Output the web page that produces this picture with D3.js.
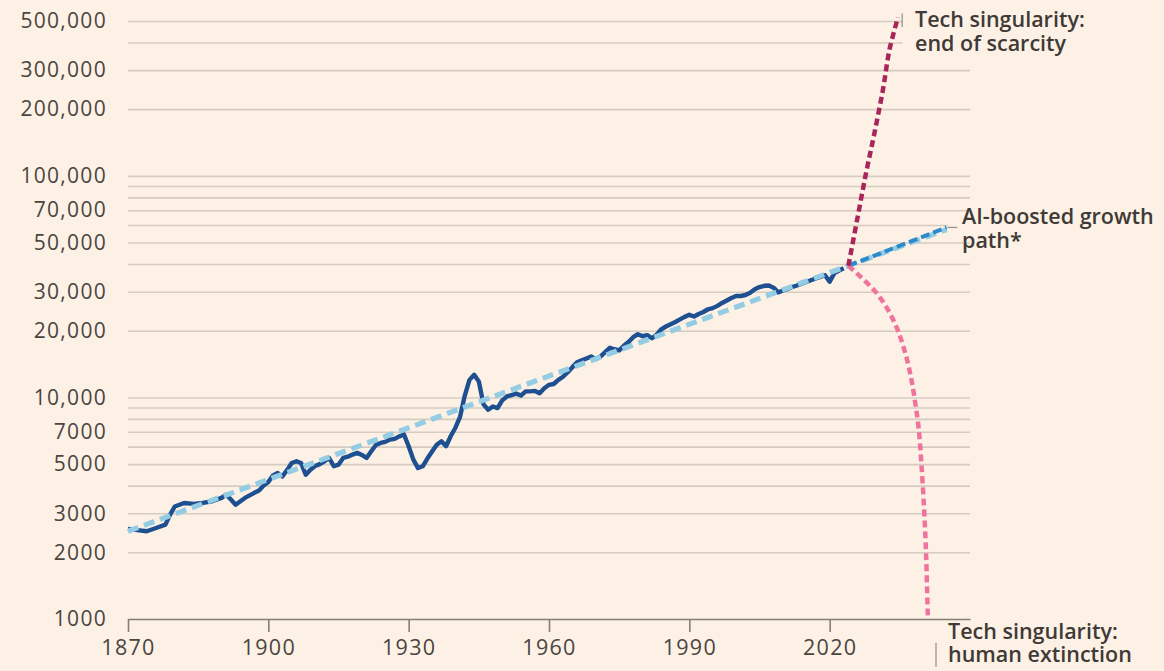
<!DOCTYPE html>
<html>
<head>
<meta charset="utf-8">
<script src="https://cdn.jsdelivr.net/npm/d3@7"></script>
<style>
  html, body { margin: 0; padding: 0; background: #fdf1e5; }
  #wrap { position: relative; width: 1164px; height: 671px; }
  svg { display: block; }
  text { font-family: "Open Sans", sans-serif; }
  .annot { position: absolute; font-family: "Open Sans", sans-serif; font-weight: 600;
           font-size: 21.5px; color: #3f3a37; white-space: nowrap; }
</style>
</head>
<body>
<div id="wrap"><svg id="chart" width="1164" height="671"></svg></div>
<script>
// ---------------- DATA ----------------
const actualYears = [1870,1872,1874,1876,1878,1879,1880,1882,1884,1886,1888,1890,1891,1892,1893,1895,1897,1898,1899,1900,
  1901,1902,1903,1904,1905,1906,1907,1908,1909,1910,1911,1912,1913,1914,1915,1916,1917,1918,1919,1920,
  1921,1922,1923,1924,1925,1926,1927,1928,1929,1930,1931,1932,1933,1934,1935,1936,1937,1938,1939,1940,
  1941,1942,1943,1944,1945,1946,1947,1948,1949,1950,1951,1952,1953,1954,1955,1956,1957,1958,1959,1960,
  1961,1962,1963,1964,1965,1966,1967,1968,1969,1970,1971,1972,1973,1974,1975,1976,1977,1978,1979,1980,
  1981,1982,1983,1984,1985,1986,1987,1988,1989,1990,1991,1992,1993,1994,1995,1996,1997,1998,1999,2000,
  2001,2002,2003,2004,2005,2006,2007,2008,2009,2010,2011,2012,2013,2014,2015,2016,2017,2018,2019,2020,
  2021,2022,2023];
const actualValues = [2550,2520,2490,2575,2665,2960,3220,3340,3310,3340,3400,3520,3640,3460,3280,3520,3710,3800,4000,4150,
  4450,4560,4400,4700,5060,5150,5060,4480,4720,4900,5000,5150,5330,4890,4970,5330,5400,5520,5620,5500,
  5330,5710,6100,6230,6300,6450,6500,6670,6800,6020,5240,4800,4890,5300,5700,6120,6340,6020,6700,7300,
  8200,10200,12000,12660,11800,9300,8800,9100,8950,9700,10100,10250,10400,10200,10650,10650,10700,10450,11000,11400,
  11500,12000,12400,13000,13700,14400,14700,15000,15300,14900,15300,16000,16750,16500,16300,17100,17800,18700,19300,18900,
  19100,18500,19200,20300,20900,21400,21900,22500,23100,23600,23200,23800,24300,25000,25300,25900,26700,27400,28100,28700,
  28700,29000,29700,30800,31500,31900,32000,31300,29800,30400,30900,31500,32000,32600,33200,33800,34400,35000,35600,33300,
  36400,37400,38300];

const trendYears  = [1870, 2045];
const trendValues = [2490, 57300];

const aiYears  = [2024, 2045];
const aiValues = [39300, 58500];

const scarcityYears  = [2024, 2026, 2027.8, 2029.6, 2031.4, 2032.8, 2034.6];
const scarcityValues = [39300, 65500, 103500, 157000, 245600, 372000, 519000];

const extinctionYears  = [2024, 2026.7, 2029.5, 2031.6, 2033.3, 2034.8, 2036.4, 2037.5, 2038.3, 2039.0, 2039.6, 2040.2, 2040.6, 2041.0];
const extinctionValues = [39300, 34900, 30500, 26640, 23040, 19510, 15200, 11970, 9430, 7345, 5055, 3100, 1985, 1000];

const xTickYears = [1870, 1900, 1930, 1960, 1990, 2020];
const yGridValues = [1000,2000,3000,4000,5000,6000,7000,8000,9000,
  10000,20000,30000,40000,50000,60000,70000,80000,90000,
  100000,200000,300000,400000,500000];
const yLabelValues = [1000,2000,3000,5000,7000,10000,20000,30000,50000,70000,100000,200000,300000,500000];

const annotations = [
  {lines: ["Tech singularity:", "end of scarcity"]},
  {lines: ["AI-boosted growth", "path*"]},
  {lines: ["Tech singularity:", "human extinction"]}
];

// ---------------- LAYOUT ----------------
const W = 1164, H = 671;
const margin = {top: 21, right: 194, bottom: 52, left: 128};
const svg = d3.select("#chart");
svg.append("rect").attr("width", W).attr("height", H).attr("fill", "#fdf1e5");

const x = d3.scaleLinear().domain([1870, 2050]).range([margin.left, W - margin.right]);
const y = d3.scaleLog().domain([1000, 500000]).range([H - margin.bottom, margin.top]);

const textColor = "#4a4541";
const labelSet = new Set(yLabelValues);
const fmt = d => d >= 10000 ? d3.format(",")(d) : d3.format("d")(d);

// y gridlines + labels
const yAxis = d3.axisLeft(y)
  .tickValues(yGridValues)
  .tickSize(-(W - margin.right - margin.left))
  .tickPadding(21)
  .tickFormat(d => labelSet.has(d) ? fmt(d) : "");
const gy = svg.append("g").attr("transform", `translate(${margin.left},0)`).call(yAxis);
gy.select(".domain").remove();
gy.selectAll(".tick line").attr("stroke", "#d6cbc0").attr("stroke-width", 1.6)
  .attr("x2", d => {
    if (d >= 400000) return x(2035.6) - margin.left;
    if (d === 60000) return x(2045.2) - margin.left;
    return W - margin.right - margin.left;
  });
gy.selectAll(".tick text").attr("fill", textColor).attr("font-size", 21)
  .attr("letter-spacing", 1.3);
gy.selectAll(".tick").filter(d => d === 1000).select("line").remove();

// x axis
const xAxis = d3.axisBottom(x).tickValues(xTickYears).tickSize(13).tickSizeOuter(0).tickPadding(8)
  .tickFormat(d3.format("d"));
const gx = svg.append("g").attr("transform", `translate(0,${H - margin.bottom})`).call(xAxis);
gx.select(".domain").attr("stroke", "#857d77").attr("stroke-width", 1.6);
gx.selectAll(".tick line").attr("stroke", "#857d77").attr("stroke-width", 1.6);
gx.selectAll(".tick text").attr("fill", textColor).attr("font-size", 21.5).attr("letter-spacing", 1.3);

// ---------------- LINES ----------------
const toPts = (ys, vs) => ys.map((yr, i) => ({year: yr, value: vs[i]}));
const line = d3.line().x(d => x(d.year)).y(d => y(d.value));
const curve = d3.line().x(d => x(d.year)).y(d => y(d.value)).curve(d3.curveCatmullRom.alpha(0.5));

svg.append("path").datum(toPts(actualYears, actualValues))
  .attr("d", line).attr("fill", "none").attr("stroke", "#1d4f91")
  .attr("stroke-width", 4.4).attr("stroke-linejoin", "round");

svg.append("path").datum(toPts(trendYears, trendValues))
  .attr("d", line).attr("fill", "none").attr("stroke", "#93cce3")
  .attr("stroke-width", 5.2).attr("stroke-dasharray", "11,6");

svg.append("path").datum(toPts(aiYears, aiValues))
  .attr("d", line).attr("fill", "none").attr("stroke", "#2d8bcc")
  .attr("stroke-width", 4).attr("stroke-dasharray", "9,4");

svg.append("path").datum(toPts(extinctionYears, extinctionValues))
  .attr("d", curve).attr("fill", "none").attr("stroke", "#f0739e")
  .attr("stroke-width", 4.5).attr("stroke-dasharray", "7,4");

svg.append("path").datum(toPts(scarcityYears, scarcityValues))
  .attr("d", curve).attr("fill", "none").attr("stroke", "#a8265a")
  .attr("stroke-width", 4.5).attr("stroke-dasharray", "7,4");

// ---------------- ANNOTATIONS ----------------
const leader = "#9d948d";
// leader marks
svg.append("line").attr("x1", x(2035.5)).attr("x2", x(2035.5)).attr("y1", y(540000)).attr("y2", y(470000))
  .attr("stroke", leader).attr("stroke-width", 1.3);
svg.append("line").attr("x1", x(2045.2)).attr("x2", x(2047.3)).attr("y1", y(58500)).attr("y2", y(58500))
  .attr("stroke", leader).attr("stroke-width", 1.3);
svg.append("line").attr("x1", 936).attr("x2", 936).attr("y1", 643).attr("y2", 667)
  .attr("stroke", leader).attr("stroke-width", 1.3);

// text blocks (HTML, so each multi-line label is a single block)
const fs = 21.5, ascent = 1.069 * fs, content = 1.362 * fs;
const place = [
  {left: 915, baseline: 27.5, lh: 24},
  {left: 962, baseline: 224.5, lh: 24.5},
  {left: 948, baseline: 639, lh: 23}
];
annotations.forEach((a, i) => {
  const p = place[i];
  const baseOff = (p.lh - content) / 2 + ascent;
  const div = d3.select("#wrap").append("div").attr("class", "annot")
    .style("left", p.left + "px").style("top", (p.baseline - baseOff) + "px")
    .style("line-height", p.lh + "px");
  div.html(a.lines.join("<br>"));
});
</script>
</body>
</html>
